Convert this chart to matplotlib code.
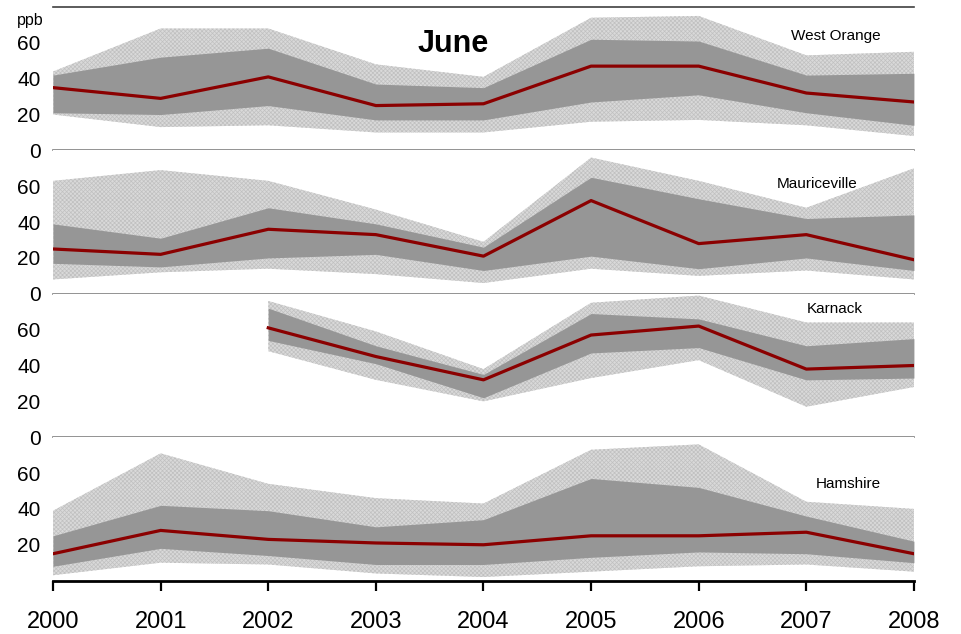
import numpy as np
import matplotlib
matplotlib.use("Agg")
import matplotlib.pyplot as plt

nan = np.nan
years = [2000, 2001, 2002, 2003, 2004, 2005, 2006, 2007, 2008]
sites = ["West Orange", "Mauriceville", "Karnack", "Hamshire"]

# outer band (light), inner band (dark), median line -- ppb, June
west_orange_outer_hi = [44, 68, 68, 48, 41, 74, 75, 53, 55]
west_orange_inner_hi = [42, 52, 57, 37, 35, 62, 61, 42, 43]
west_orange_median = [35, 29, 41, 25, 26, 47, 47, 32, 27]
west_orange_inner_lo = [21, 20, 25, 17, 17, 27, 31, 21, 14]
west_orange_outer_lo = [20, 13, 14, 10, 10, 16, 17, 14, 8]

mauriceville_outer_hi = [63, 69, 63, 47, 29, 76, 63, 48, 70]
mauriceville_inner_hi = [39, 31, 48, 39, 26, 65, 53, 42, 44]
mauriceville_median = [25, 22, 36, 33, 21, 52, 28, 33, 19]
mauriceville_inner_lo = [17, 15, 20, 22, 13, 21, 14, 20, 13]
mauriceville_outer_lo = [8, 12, 14, 11, 6, 14, 10, 13, 8]

karnack_outer_hi = [nan, nan, 76, 59, 38, 75, 79, 64, 64]
karnack_inner_hi = [nan, nan, 72, 51, 35, 69, 66, 51, 55]
karnack_median = [nan, nan, 61, 45, 32, 57, 62, 38, 40]
karnack_inner_lo = [nan, nan, 54, 41, 22, 47, 50, 32, 33]
karnack_outer_lo = [nan, nan, 48, 32, 20, 33, 43, 17, 28]

hamshire_outer_hi = [39, 71, 54, 46, 43, 73, 76, 44, 40]
hamshire_inner_hi = [25, 42, 39, 30, 34, 57, 52, 36, 22]
hamshire_median = [15, 28, 23, 21, 20, 25, 25, 27, 15]
hamshire_inner_lo = [8, 18, 14, 9, 9, 13, 16, 15, 10]
hamshire_outer_lo = [3, 10, 9, 4, 2, 5, 8, 9, 5]

outer_hi = [west_orange_outer_hi, mauriceville_outer_hi, karnack_outer_hi, hamshire_outer_hi]
inner_hi = [west_orange_inner_hi, mauriceville_inner_hi, karnack_inner_hi, hamshire_inner_hi]
medians = [west_orange_median, mauriceville_median, karnack_median, hamshire_median]
inner_lo = [west_orange_inner_lo, mauriceville_inner_lo, karnack_inner_lo, hamshire_inner_lo]
outer_lo = [west_orange_outer_lo, mauriceville_outer_lo, karnack_outer_lo, hamshire_outer_lo]

# label spots (year, ppb) for each site name
label_x = [2007.27, 2007.1, 2007.26, 2007.39]
label_y = [63.7, 61.5, 71.5, 54]

plt.rcParams["font.family"] = ["Liberation Sans", "DejaVu Sans"]
plt.rcParams["hatch.linewidth"] = 0.5

fig, axes = plt.subplots(4, 1, sharex=True, figsize=(9.61, 6.34), dpi=100)
fig.subplots_adjust(left=0.0552, right=0.951, top=0.989, bottom=0.0842, hspace=0)

for i, ax in enumerate(axes):
    ax.fill_between(years, outer_lo[i], outer_hi[i], facecolor="#d9d9d9",
                    edgecolor="#c0c0c0", hatch="xxxxxxxx", linewidth=0)
    ax.fill_between(years, inner_lo[i], inner_hi[i], color="#969696", linewidth=0)
    ax.plot(years, medians[i], color="#8b0000", linewidth=2.3)
    ax.text(label_x[i], label_y[i], sites[i], fontsize=11, ha="center", va="center")

    ax.set_xlim(2000, 2008)
    ax.set_ylim(0, 80)
    ax.set_yticks([0, 20, 40, 60] if i < 3 else [20, 40, 60])
    ax.tick_params(axis="y", length=0, labelsize=15, pad=9)
    for side in ["left", "right", "top"]:
        ax.spines[side].set_visible(False)
    ax.spines["bottom"].set_color("#808080")
    ax.spines["bottom"].set_linewidth(1.2)
    ax.tick_params(axis="x", length=0)

axes[0].spines["top"].set_visible(True)
axes[0].spines["top"].set_color("#404040")
axes[0].spines["top"].set_linewidth(1.2)

bottom = axes[-1]
bottom.spines["bottom"].set_color("black")
bottom.spines["bottom"].set_linewidth(2)
bottom.set_xticks(years)
bottom.tick_params(axis="x", length=7, width=1.6, direction="out", labelsize=17, pad=15)

axes[0].text(2003.72, 59.2, "June", fontsize=22, fontweight="bold", ha="center", va="center")
fig.text(30 / 961, 1 - 21 / 634, "ppb", fontsize=11.5, ha="center", va="center")

fig.savefig("out.png", dpi=100)
